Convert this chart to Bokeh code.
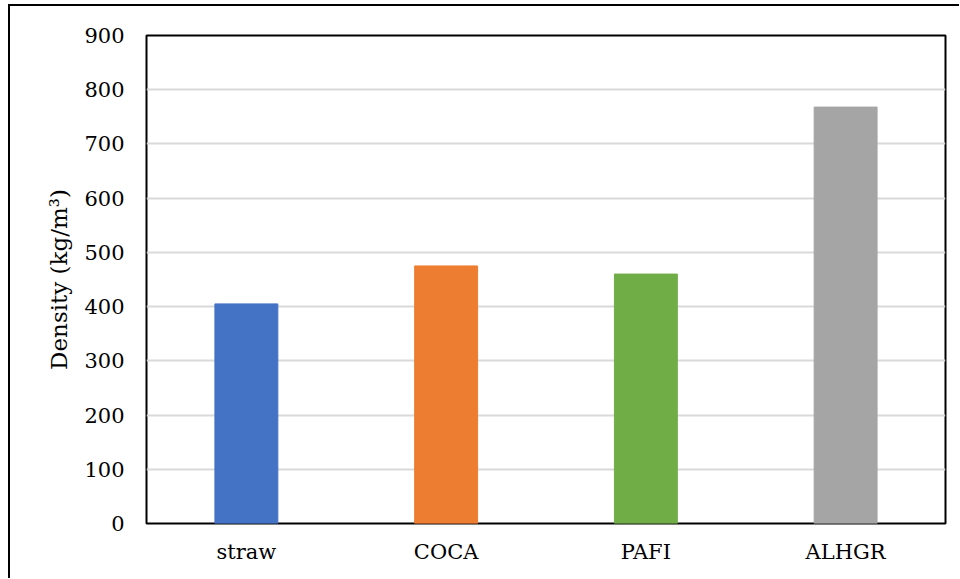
from bokeh.plotting import figure
from bokeh.models import ColumnDataSource, FixedTicker
from bokeh.embed import file_html
from bokeh.resources import INLINE

# Bulk density of each material
materials = ["straw", "COCA", "PAFI", "ALHGR"]
density = [405, 475, 460, 768]
colors = ["#4472C4", "#ED7D31", "#70AD47", "#A5A5A5"]
y_ticks = [0, 100, 200, 300, 400, 500, 600, 700, 800, 900]

FONT = "DejaVu Serif"

source = ColumnDataSource(dict(material=materials, density=density, color=colors))

p = figure(
    x_range=materials,
    y_range=(0, 900),
    width=951,
    height=574,
    output_backend="svg",
    toolbar_location=None,
    min_border_left=136,
    min_border_right=16,
    min_border_top=29,
    min_border_bottom=57,
)
# chart-area border on the top and left edges
p.margin = (4, 0, 0, 8)
p.styles = {"border-top": "2px solid black", "border-left": "2px solid black"}

p.vbar(x="material", top="density", width=0.315, color="color", source=source)

# frame and grid
p.outline_line_color = "black"
p.outline_line_width = 2
p.xgrid.grid_line_color = None
p.ygrid.grid_line_color = "#d9d9d9"
p.ygrid.grid_line_width = 2
p.background_fill_color = "white"
p.border_fill_color = "white"

p.yaxis.ticker = FixedTicker(ticks=y_ticks)
p.yaxis.axis_label = "Density (kg/m³)"
p.yaxis.axis_label_text_font = FONT
p.yaxis.axis_label_text_font_style = "normal"
p.yaxis.axis_label_text_font_size = "23px"
p.yaxis.axis_label_text_color = "black"
p.yaxis.axis_label_standoff = 9

for ax in (p.xaxis[0], p.yaxis[0]):
    ax.axis_line_color = None
    ax.major_tick_line_color = None
    ax.minor_tick_line_color = None
    ax.major_label_text_font = FONT
    ax.major_label_text_font_size = "21px"
    ax.major_label_text_color = "black"

p.yaxis.major_label_standoff = 16
p.xaxis.major_label_standoff = 10

with open("out.html", "w") as f:
    f.write(file_html(p, INLINE))
